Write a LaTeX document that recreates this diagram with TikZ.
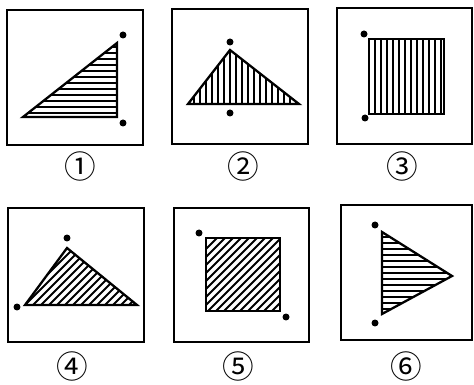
\documentclass[tikz,border=0pt]{standalone}
\usepackage{fontspec}
\newfontfamily\circfont{Noto Sans CJK SC}
\usetikzlibrary{positioning}

\begin{document}
\begin{tikzpicture}[
    x=0.02cm, y=-0.02cm,
    boxframe/.style={draw, line width=1pt},
    figline/.style={draw, line width=1.3pt, line join=miter},
    hatch/.style={line width=1.2pt},
    dot/.style={circle, fill, inner sep=0pt, minimum size=0.14cm},
    numlabel/.style={font=\circfont\fontsize{18}{18}\selectfont, inner sep=0pt}
]
\useasboundingbox (0,0) rectangle (474,385);

% 外框
\draw[boxframe] (7,10) rectangle (143,145);
\draw[boxframe] (172,9) rectangle (308,144);
\draw[boxframe] (337,8) rectangle (472,144);
\draw[boxframe] (8,208) rectangle (144,342);
\draw[boxframe] (174,208) rectangle (309,342);
\draw[boxframe] (341,205) rectangle (472,340);

% 图1：横线三角形
\begin{scope}
\clip (23,117) -- (117,43) -- (117,117) -- cycle;
\foreach \y in {47,53,...,113} \draw[hatch] (20,\y) -- (120,\y);
\end{scope}
\draw[figline] (23,117) -- (117,43) -- (117,117) -- cycle;
\node[dot] (d1a) at (123,35) {};
\node[dot] (d1b) at (123,123) {};

% 图2：竖线三角形
\begin{scope}
\clip (188,104) -- (230,50) -- (299,104) -- cycle;
\foreach \x in {194,200,...,296} \draw[hatch] (\x,45) -- (\x,110);
\end{scope}
\draw[figline] (188,104) -- (230,50) -- (299,104) -- cycle;
\node[dot] (d2a) at (230,42) {};
\node[dot] (d2b) at (230,113) {};

% 图3：竖线正方形
\begin{scope}
\clip (369,39) rectangle (444,114);
\foreach \x in {375,381,...,441} \draw[hatch] (\x,35) -- (\x,118);
\end{scope}
\draw[figline] (369,39) rectangle (444,114);
\node[dot] (d3a) at (364,34) {};
\node[dot] (d3b) at (365,118) {};

% 图4：斜线三角形
\begin{scope}
\clip (25,305) -- (67,248) -- (137,305) -- cycle;
\foreach \s in {-60,-52,...,140} \draw[hatch] (\s,310) -- ++(80,-80);
\end{scope}
\draw[figline] (25,305) -- (67,248) -- (137,305) -- cycle;
\node[dot] (d4a) at (67,238) {};
\node[dot] (d4b) at (17,307) {};

% 图5：斜线正方形
\begin{scope}
\clip (206,238) rectangle (280,311);
\foreach \s in {140,148,...,290} \draw[hatch] (\s,315) -- ++(85,-85);
\end{scope}
\draw[figline] (206,238) rectangle (280,311);
\node[dot] (d5a) at (199,233) {};
\node[dot] (d5b) at (286,317) {};

% 图6：横线三角形
\begin{scope}
\clip (382,232) -- (452,276) -- (382,314) -- cycle;
\foreach \y in {237,243,...,311} \draw[hatch] (378,\y) -- (455,\y);
\end{scope}
\draw[figline] (382,232) -- (452,276) -- (382,314) -- cycle;
\node[dot] (d6a) at (375,225) {};
\node[dot] (d6b) at (375,323) {};

% 编号
\node[numlabel] (lbl1) at (80,166) {①};
\node[numlabel] (lbl2) at (243,166) {②};
\node[numlabel] (lbl3) at (402,166) {③};
\node[numlabel] (lbl4) at (72,366) {④};
\node[numlabel] (lbl5) at (238,366) {⑤};
\node[numlabel] (lbl6) at (406,366) {⑥};

\end{tikzpicture}
\end{document}
